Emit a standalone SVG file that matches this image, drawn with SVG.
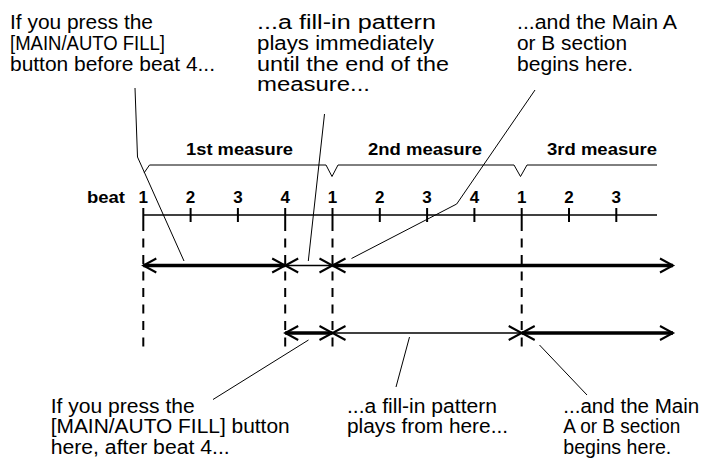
<svg xmlns="http://www.w3.org/2000/svg" width="719" height="462" viewBox="0 0 719 462">
<style>
.t{font-family:"Liberation Sans",Arial,sans-serif;font-size:19.5px;fill:#000}
.b{font-family:"Liberation Sans",Arial,sans-serif;font-size:17px;font-weight:bold;fill:#000}
.n{text-anchor:middle}
.thin{stroke:#000;stroke-width:1;fill:none}
.ax{stroke:#000;stroke-width:1.5;fill:none}
.tick{stroke:#000;stroke-width:2}
.dash{stroke:#000;stroke-width:2;stroke-dasharray:9 7.5;fill:none}
.thick{stroke:#000;stroke-width:3.3;fill:none}
.mid{stroke:#000;stroke-width:1.5;fill:none}
</style>
<defs>
<marker id="arr" markerUnits="userSpaceOnUse" viewBox="-15 -9 17 18" refX="0" refY="0" markerWidth="17" markerHeight="18" orient="auto-start-reverse" overflow="visible">
<path d="M-13,-7 L0,0 L-13,7" fill="none" stroke="#000" stroke-width="2"/>
</marker>
</defs>

<g id="timeline">
<path class="thin" d="M144,173 L149.5,165 L326,165 L332,176.5 L338,165 L514,165 L520.5,176.5 L527,165 L657,165"/>
<text class="b" x="186" y="155" textLength="107" lengthAdjust="spacingAndGlyphs">1st measure</text>
<text class="b" x="368" y="155" textLength="114" lengthAdjust="spacingAndGlyphs">2nd measure</text>
<text class="b" x="547" y="155" textLength="110" lengthAdjust="spacingAndGlyphs">3rd measure</text>
<text class="b" x="87" y="203" textLength="38" lengthAdjust="spacingAndGlyphs">beat</text>
<g class="b n">
<text x="143.3" y="203">1</text>
<text x="190.6" y="203">2</text>
<text x="237.9" y="203">3</text>
<text x="285.2" y="203">4</text>
<text x="332.5" y="203">1</text>
<text x="379.8" y="203">2</text>
<text x="427.1" y="203">3</text>
<text x="474.4" y="203">4</text>
<text x="521.7" y="203">1</text>
<text x="569" y="203">2</text>
<text x="616.3" y="203">3</text>
</g>
<line class="ax" x1="143" y1="215" x2="657" y2="215"/>
<g class="tick">
<line x1="143.3" y1="208" x2="143.3" y2="222"/>
<line x1="190.6" y1="208" x2="190.6" y2="222"/>
<line x1="237.9" y1="208" x2="237.9" y2="222"/>
<line x1="285.2" y1="208" x2="285.2" y2="222"/>
<line x1="332.5" y1="208" x2="332.5" y2="222"/>
<line x1="379.8" y1="208" x2="379.8" y2="222"/>
<line x1="427.1" y1="208" x2="427.1" y2="222"/>
<line x1="474.4" y1="208" x2="474.4" y2="222"/>
<line x1="521.7" y1="208" x2="521.7" y2="222"/>
<line x1="569" y1="208" x2="569" y2="222"/>
<line x1="616.3" y1="208" x2="616.3" y2="222"/>
</g>
<g class="dash">
<line x1="143.3" y1="222" x2="143.3" y2="352"/>
<line x1="285.2" y1="222" x2="285.2" y2="352"/>
<line x1="332.5" y1="222" x2="332.5" y2="352"/>
<line x1="521.7" y1="222" x2="521.7" y2="352"/>
</g>
</g>

<g id="label-top-left">
<text class="t" x="10" y="29" textLength="143" lengthAdjust="spacingAndGlyphs">If you press the</text>
<text class="t" x="10" y="49.8" textLength="155" lengthAdjust="spacingAndGlyphs">[MAIN/AUTO FILL]</text>
<text class="t" x="10" y="70.5" textLength="205" lengthAdjust="spacingAndGlyphs">button before beat 4...</text>
</g>
<g id="label-top-middle">
<text class="t" x="257" y="29" textLength="179" lengthAdjust="spacingAndGlyphs">...a fill-in pattern</text>
<text class="t" x="257" y="49.8" textLength="177" lengthAdjust="spacingAndGlyphs">plays immediately</text>
<text class="t" x="257" y="70.5" textLength="192" lengthAdjust="spacingAndGlyphs">until the end of the</text>
<text class="t" x="257" y="91.2" textLength="113" lengthAdjust="spacingAndGlyphs">measure...</text>
</g>
<g id="label-top-right">
<text class="t" x="517" y="29" textLength="160" lengthAdjust="spacingAndGlyphs">...and the Main A</text>
<text class="t" x="517" y="49.8" textLength="110" lengthAdjust="spacingAndGlyphs">or B section</text>
<text class="t" x="517" y="70.5" textLength="116" lengthAdjust="spacingAndGlyphs">begins here.</text>
</g>
<g id="label-bottom-left">
<text class="t" x="50.7" y="412.5" textLength="144" lengthAdjust="spacingAndGlyphs">If you press the</text>
<text class="t" x="50.7" y="433.3" textLength="239" lengthAdjust="spacingAndGlyphs">[MAIN/AUTO FILL] button</text>
<text class="t" x="50.7" y="454" textLength="179" lengthAdjust="spacingAndGlyphs">here, after beat 4...</text>
</g>
<g id="label-bottom-middle">
<text class="t" x="347" y="412.5" textLength="150" lengthAdjust="spacingAndGlyphs">...a fill-in pattern</text>
<text class="t" x="347" y="433.3" textLength="161" lengthAdjust="spacingAndGlyphs">plays from here...</text>
</g>
<g id="label-bottom-right">
<text class="t" x="563.3" y="412.5" textLength="136" lengthAdjust="spacingAndGlyphs">...and the Main</text>
<text class="t" x="563.3" y="433.3" textLength="117" lengthAdjust="spacingAndGlyphs">A or B section</text>
<text class="t" x="563.3" y="454" textLength="108" lengthAdjust="spacingAndGlyphs">begins here.</text>
</g>

<g id="connectors">
<line class="thick" x1="143.3" y1="265.5" x2="285.2" y2="265.5" marker-start="url(#arr)" marker-end="url(#arr)"/>
<line class="mid" x1="285.2" y1="265.5" x2="332.5" y2="265.5" marker-start="url(#arr)" marker-end="url(#arr)"/>
<line class="thick" x1="332.5" y1="265.5" x2="673" y2="265.5" marker-start="url(#arr)" marker-end="url(#arr)"/>
<line class="thick" x1="285.2" y1="333" x2="332.5" y2="333" marker-start="url(#arr)" marker-end="url(#arr)"/>
<line class="mid" x1="332.5" y1="333" x2="521.7" y2="333" marker-start="url(#arr)" marker-end="url(#arr)"/>
<line class="thick" x1="521.7" y1="333" x2="673" y2="333" marker-start="url(#arr)" marker-end="url(#arr)"/>
<polyline class="thin" points="135,88 137.5,157 184,261"/>
<line class="thin" x1="324.5" y1="114" x2="308.3" y2="261"/>
<polyline class="thin" points="535,90 456.7,204 351.5,258.5"/>
<line class="thin" x1="308.5" y1="340" x2="213" y2="399.5"/>
<line class="thin" x1="409.5" y1="337" x2="396" y2="387"/>
<line class="thin" x1="539.5" y1="345" x2="587" y2="395"/>
</g>
</svg>
